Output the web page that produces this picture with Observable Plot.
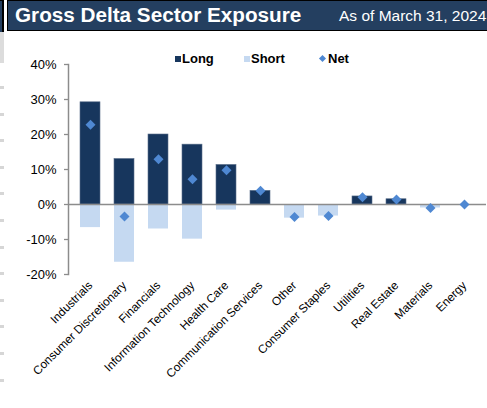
<!DOCTYPE html>
<html>
<head>
<meta charset="utf-8">
<script src="https://cdn.jsdelivr.net/npm/d3@7"></script>
<script src="https://cdn.jsdelivr.net/npm/@observablehq/plot@0.6"></script>
<style>
  html, body { margin: 0; padding: 0; background: #fff; }
  body { width: 487px; height: 408px; position: relative; overflow: hidden; font-family: "Liberation Sans", Arial, sans-serif; }
  #header { position: absolute; left: 7px; top: 0; width: 480px; height: 31px; background: #243f60; border-top: 1px solid #000; border-bottom: 1px solid #000; border-left: 1px solid #000; box-sizing: border-box; }
  #title { position: absolute; left: 7px; top: 2px; color: #fff; font-weight: bold; font-size: 20.7px; white-space: nowrap; }
  #subtitle { position: absolute; left: 331px; top: 6px; color: #fff; font-size: 15.5px; white-space: nowrap; }
  #leftbox { position: absolute; left: 0; top: 0; width: 2px; height: 31px; background: #243f60; border-right: 2px solid #000; border-top: 1px solid #000; border-bottom: 1px solid #000; }
  #strip { position: absolute; left: 0; top: 32px; width: 4px; height: 31px; background: #dcdcdc; }
  .tk { position: absolute; left: 0; width: 4px; height: 3px; background: #d6d6d6; }
  #chart { position: absolute; left: 0; top: 33px; }
  #legend { position: absolute; top: 51px; left: 175px; font-size: 13px; font-weight: bold; color: #000; white-space: nowrap; }
  #legend span.item { position: absolute; top: 0; }
  #legend .sw { display: inline-block; width: 6px; height: 6px; margin-right: 1px; vertical-align: 1px; }
  #legend .dm { display: inline-block; width: 5px; height: 5px; background: #4f88d2; transform: rotate(45deg); margin-right: 3px; margin-left: 1px; vertical-align: 2px; }
</style>
</head>
<body>
<div id="leftbox"></div>
<div id="header"><div id="title">Gross Delta Sector Exposure</div><div id="subtitle">As of March 31, 2024</div></div>
<div id="strip"></div>
<div id="chart"></div>
<div id="legend">
  <span class="item" style="left:0"><span class="sw" style="background:#17365d"></span>Long</span>
  <span class="item" style="left:69px"><span class="sw" style="background:#c5d9f1"></span>Short</span>
  <span class="item" style="left:144px"><span class="dm"></span>Net</span>
</div>
<script>
const sectors = ["Industrials", "Consumer Discretionary", "Financials", "Information Technology", "Health Care", "Communication Services", "Other", "Consumer Staples", "Utilities", "Real Estate", "Materials", "Energy"];
const longValues  = [29.2, 13.0, 20.0, 17.1, 11.3, 3.9, 0.0, 0.0, 2.3, 1.5, 0.0, 0.0];
const shortValues = [-6.6, -16.5, -7.0, -9.9, -1.6, 0.0, -3.9, -3.3, 0.0, 0.0, -1.0, 0.0];
const netValues   = [22.8, -3.4, 12.9, 7.2, 9.8, 3.9, -3.6, -3.3, 2.1, 1.4, -1.0, 0.0];
const yTicks = [-20, -10, 0, 10, 20, 30, 40];

// decorative tick marks on the left strip
for (let i = 0; i < 12; i++) {
  const d = document.createElement("div");
  d.className = "tk";
  d.style.top = (86 + i * 26.6) + "px";
  document.body.appendChild(d);
}

const data = sectors.map((s, i) => ({sector: s, long: longValues[i], short: shortValues[i], net: netValues[i]}));

const chart = Plot.plot({
  width: 487,
  height: 375,
  marginTop: 31,
  marginBottom: 134,
  marginLeft: 68,
  marginRight: 1,
  style: {fontFamily: "'Liberation Sans', Arial, sans-serif", color: "#000", background: "transparent"},
  x: {domain: sectors, paddingInner: 0.42, paddingOuter: 0.228},
  y: {domain: [-20, 40]},
  marks: [
    Plot.barY(data, {x: "sector", y: "short", fill: "#c5d9f1"}),
    Plot.barY(data, {x: "sector", y: "long", fill: "#17365d", stroke: "#5a6f8a", strokeWidth: 0.6}),
    Plot.ruleY([0], {stroke: "#8c8c8c", strokeWidth: 1.6}),
    Plot.frame({anchor: "left", stroke: "#8c8c8c", strokeWidth: 1.5}),
    Plot.axisY({ticks: yTicks, tickFormat: d => d + "%", tickSize: 4, tickPadding: 8, fontSize: 13, stroke: "#8c8c8c", strokeWidth: 1.3, label: null}),
    Plot.axisX({tickRotate: -45, tickSize: 0, tickPadding: 9, fontSize: 11.8, label: null}),
    Plot.dot(data, {x: "sector", y: "net", symbol: "diamond2", r: 4.5, fill: "#4f88d2", stroke: "none"})
  ]
});
document.getElementById("chart").appendChild(chart);
</script>
</body>
</html>
